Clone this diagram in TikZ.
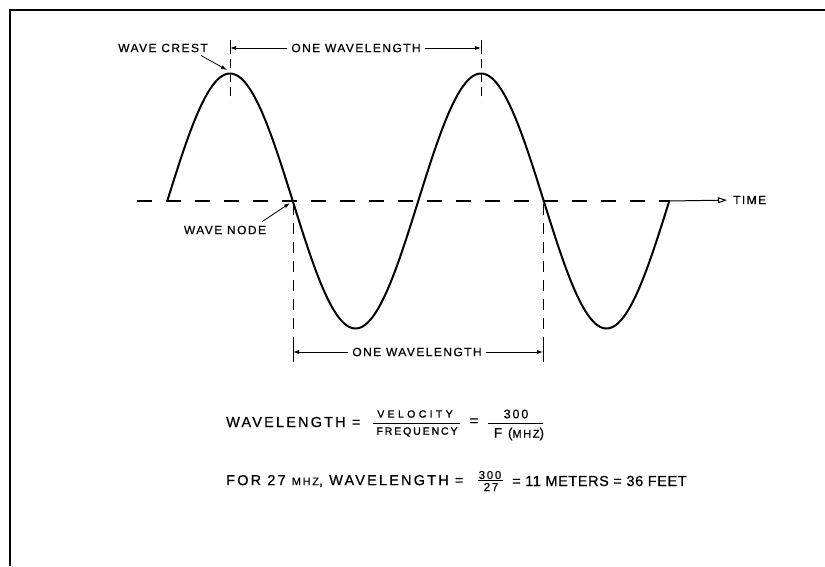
\documentclass[tikz,border=0pt]{standalone}
\usepackage{fontspec}
\setmainfont{Liberation Sans}[LetterSpace=15,FakeBold=0.6]
\newfontfamily\lblfont{Liberation Sans}[LetterSpace=12,FakeBold=0.6]
\newfontfamily\tightfont{Liberation Sans}[LetterSpace=4,FakeBold=0.6]
\newfontfamily\boldsmall{Liberation Sans}[LetterSpace=18,FakeBold=1.4]
\newfontfamily\boldwide{Liberation Sans}[LetterSpace=32,FakeBold=1.4]
\usetikzlibrary{arrows.meta,calc}
\newcommand{\fsz}[1]{\fontsize{#1}{#1}\selectfont}
\begin{document}
\begin{tikzpicture}[x=1pt,y=-1pt,
  lbl/.style={inner sep=0pt, font=\lblfont\fsz{12}},
  big/.style={inner sep=0pt, font=\fsz{14.5}},
  small/.style={inner sep=0pt, font=\boldsmall\fsz{10.5}},
  wave/.style={line width=2pt, line join=round, line cap=round},
  axisdash/.style={line width=1.1pt, dash pattern=on 15pt off 14pt},
  crestdash/.style={line width=1pt, dash pattern=on 9pt off 5pt},
  nodedash/.style={line width=1pt, dash pattern=on 11pt off 8pt},
  tick/.style={line width=1pt},
  dim/.style={line width=0.8pt, -{Latex[length=6pt,width=4pt]}, shorten <=4pt},
  pointer/.style={line width=0.8pt, -{Latex[length=6pt,width=4pt]}},
  frame/.style={line width=2pt},
  bar/.style={line width=0.9pt}]
\useasboundingbox (0,0) rectangle (825,566);
% frame
\draw[frame] (10,566) -- (10,10) -- (825,10);
% coordinates
\coordinate (axL) at (137,201);
\coordinate (wS) at (167.25,201);
\coordinate (wE) at (669.25,201);
\coordinate (nodeA) at (293,201);
\coordinate (nodeB) at (543,201);
% axis
\draw[axisdash] (axL) -- (wE);
% wave
\draw[wave] plot[domain=167.25:669.25, samples=240] (\x, {201 - 127.5*sin((\x-167.25)*1.434263)});
% time arrow
\node[lbl, anchor=west] (time) at (733,200) {TIME};
\draw[line width=1pt, -{Triangle[open,length=9pt,width=6pt]}, shorten >=6pt] (wE) -- (time.west);
% crest verticals and ticks
\draw[tick] (230,40) -- (230,54);
\draw[tick] (481,40) -- (481,54);
\draw[crestdash] (230,59) -- (230,101);
\draw[crestdash] (481,59) -- (481,101);
\coordinate (tl) at (230,48);
\coordinate (tr) at (481,48);
\node[lbl] (topwl) at (356,48) {ONE WAVELENGTH};
\draw[dim] (topwl.west) -- (tl);
\draw[dim] (topwl.east) -- (tr);
% node verticals
\draw[nodedash] (nodeA) ++(0,3) -- (293,346);
\draw[nodedash] (nodeB) ++(0,3) -- (543,346);
\draw[tick] (293,346) -- (293,362);
\draw[tick] (543,346) -- (543,362);
\coordinate (bl) at (293,352);
\coordinate (br) at (543,352);
\node[lbl] (botwl) at (417,352) {ONE WAVELENGTH};
\draw[dim] (botwl.west) -- (bl);
\draw[dim] (botwl.east) -- (br);
% labels with pointers
\node[lbl] (crest) at (163,48) {WAVE CREST};
\coordinate (crestpt) at (227,70);
\draw[pointer] ($(crest.south east)+(-7,3)$) -- (crestpt);
\node[lbl] (wnode) at (225,230) {WAVE NODE};
\coordinate (nodept) at (290,203);
\draw[pointer] ($(wnode.north east)+(-4,-4)$) -- (nodept);
% formula 1
\node[big, anchor=west] (f1) at (226,422) {WAVELENGTH =};
\node[inner sep=0pt, font=\boldwide\fsz{10.5}] (vel) at (415,414) {VELOCITY};
\node[small] (freq) at (417,432) {FREQUENCY};
\draw[bar] (373,423) -- (460,423);
\node[big] (eq2) at (474,422) {=};
\node[inner sep=0pt, font=\fsz{12.5}] (n300) at (516,414) {300};
\node[inner sep=0pt, font=\fsz{13.5}] (fmhz) at (519,434) {F ({\fsz{11}MHZ})};
\draw[bar] (488,423) -- (543,423);
% formula 2
\node[big, anchor=west] (f2a) at (226,481) {FOR 27 {\fsz{11}MHZ}, WAVELENGTH =};
\node[inner sep=0pt, font=\fsz{11.5}] (n300b) at (490,475) {300};
\node[inner sep=0pt, font=\fsz{11.5}] (n27) at (491,487) {27};
\draw[bar] (478,480) -- (503,480);
\node[big, anchor=west, font=\tightfont\fsz{14.5}] (f2b) at (512,481) {= 11 METERS = 36 FEET};
\end{tikzpicture}
\end{document}
